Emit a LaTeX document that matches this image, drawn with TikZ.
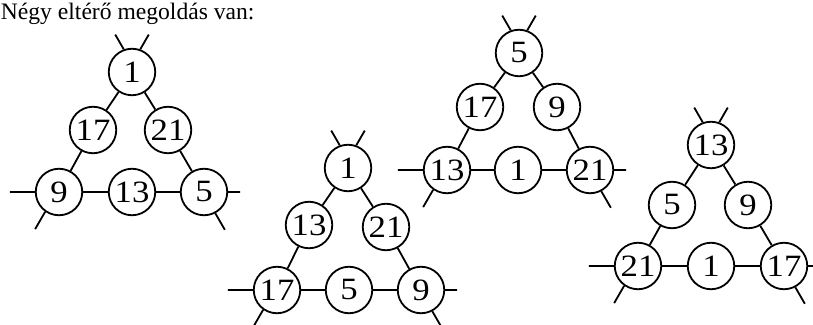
\documentclass[tikz,border=0pt]{standalone}
\usepackage{fontspec}
\setmainfont{Liberation Serif}
\newfontfamily\numfont[FakeStretch=1.12]{Liberation Serif}
\usetikzlibrary{arrows}

\begin{document}
\begin{tikzpicture}
      [x=1pt,y=1pt,line width=1.8pt,
       every node/.style={draw,circle,minimum size=46.5pt,inner sep=0pt,font=\numfont\fontsize{31}{36}\selectfont}]

      \tikzstyle{heading} = [draw=none,rectangle,minimum size=0pt,anchor=base west,font=\rmfamily\fontsize{23.6}{28}\selectfont]

      \useasboundingbox (0,0) rectangle (813,324);

      \node[heading] (title) at (0,304) {Négy eltérő megoldás van:};

      \node (a1) at (132,252) {1};
      \node (a2) at (93,194)  {17};
      \node (a3) at (168,194) {21};
      \node (a4) at (59,132)  {9};
      \node (a5) at (132,132) {13};
      \node (a6) at (204,132) {5};

      \node (b1) at (348,156) {1};
      \node (b2) at (309,99)  {13};
      \node (b3) at (386,97)  {21};
      \node (b4) at (277,34)  {17};
      \node (b5) at (349,34)  {5};
      \node (b6) at (421,34)  {9};

      \node (c1) at (519,271) {5};
      \node (c2) at (480,217) {17};
      \node (c3) at (557,217) {9};
      \node (c4) at (447,154) {13};
      \node (c5) at (518,154) {1};
      \node (c6) at (590,154) {21};

      \node (d1) at (711,179) {13};
      \node (d2) at (672,119) {5};
      \node (d3) at (748,119) {9};
      \node (d4) at (638,58)  {21};
      \node (d5) at (711,58)  {1};
      \node (d6) at (784,58)  {17};

      \path (a1) edge (a2) (a2) edge (a4) (a1) edge (a3) (a3) edge (a6) (a4) edge (a5) (a5) edge (a6)
            (b1) edge (b2) (b2) edge (b4) (b1) edge (b3) (b3) edge (b6) (b4) edge (b5) (b5) edge (b6)
            (c1) edge (c2) (c2) edge (c4) (c1) edge (c3) (c3) edge (c6) (c4) edge (c5) (c5) edge (c6)
            (d1) edge (d2) (d2) edge (d4) (d1) edge (d3) (d3) edge (d6) (d4) edge (d5) (d5) edge (d6);

      \draw (a1.110) -- ++(120:17) (a1.70) -- ++(60:17)
            (a4.west) -- ++(-25,0) (a4.235) -- ++(240:20)
            (a6.east) -- ++(12,0)  (a6.-62) -- ++(-60:19);
      \draw (b1.110) -- ++(120:17) (b1.70) -- ++(60:17)
            (b4.west) -- ++(-25,0) (b4.235) -- ++(240:20)
            (b6.east) -- ++(12,0)  (b6.-62) -- ++(-60:19);
      \draw (c1.110) -- ++(120:17) (c1.70) -- ++(60:17)
            (c4.west) -- ++(-25,0) (c4.235) -- ++(240:20)
            (c6.east) -- ++(12,0)  (c6.-62) -- ++(-60:19);
      \draw (d1.110) -- ++(120:17) (d1.70) -- ++(60:17)
            (d4.west) -- ++(-25,0) (d4.235) -- ++(240:20)
            (d6.east) -- ++(12,0)  (d6.-62) -- ++(-60:19);
    \end{tikzpicture}
\end{document}
